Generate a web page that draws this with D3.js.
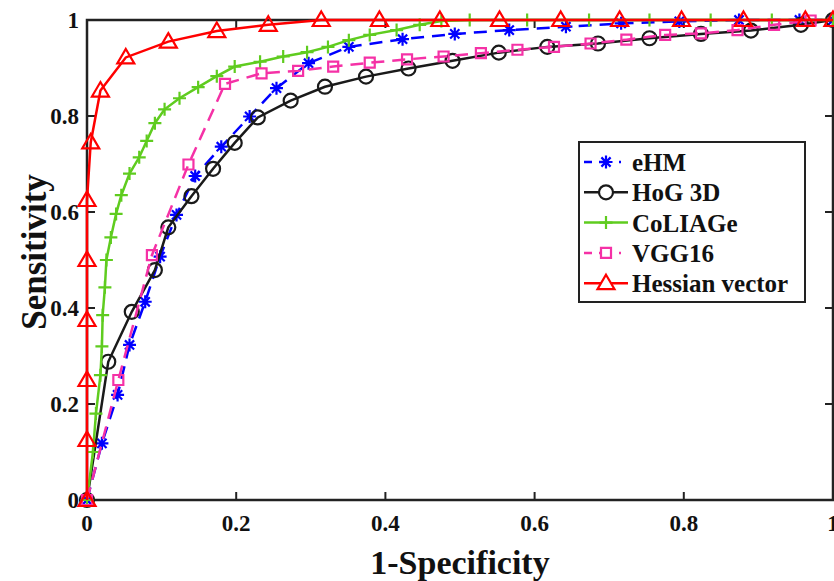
<!DOCTYPE html>
<html>
<head>
<meta charset="utf-8">
<script src="https://cdn.jsdelivr.net/npm/d3@7/dist/d3.min.js"></script>
<style>
  body { margin: 0; background: #fff; }
  text { font-family: "Liberation Serif", "Times New Roman", serif; font-weight: bold; fill: #111; }
</style>
</head>
<body>
<div id="chart"></div>
<script>
// ROC curves
var ehmX = [0, 0.02, 0.041, 0.057, 0.078, 0.098, 0.12, 0.145, 0.18, 0.218, 0.254, 0.297, 0.351, 0.423, 0.493, 0.566, 0.642, 0.716, 0.794, 0.874, 0.955, 1];
var ehmY = [0, 0.118, 0.219, 0.323, 0.413, 0.507, 0.594, 0.675, 0.736, 0.799, 0.858, 0.91, 0.944, 0.96, 0.971, 0.979, 0.986, 0.993, 0.997, 1, 1, 1];

var hogX = [0, 0.0285, 0.06, 0.091, 0.109, 0.14, 0.169, 0.198, 0.229, 0.273, 0.319, 0.374, 0.431, 0.49, 0.552, 0.617, 0.685, 0.754, 0.823, 0.89, 0.957, 1];
var hogY = [0, 0.288, 0.392, 0.479, 0.568, 0.633, 0.69, 0.744, 0.797, 0.832, 0.861, 0.882, 0.899, 0.915, 0.932, 0.944, 0.951, 0.962, 0.971, 0.978, 0.99, 1];

var coliageX = [0, 0.008, 0.012, 0.018, 0.02, 0.021, 0.024, 0.026, 0.032, 0.039, 0.046, 0.057, 0.07, 0.08, 0.091, 0.104, 0.124, 0.149, 0.174, 0.198, 0.232, 0.263, 0.295, 0.323, 0.351, 0.379, 0.415, 0.446, 0.475, 0.513, 0.59, 0.673, 0.754, 0.836, 0.918, 1];
var coliageY = [0, 0.1, 0.18, 0.26, 0.32, 0.385, 0.443, 0.5, 0.547, 0.596, 0.635, 0.68, 0.714, 0.748, 0.785, 0.814, 0.837, 0.86, 0.883, 0.903, 0.913, 0.924, 0.933, 0.944, 0.958, 0.969, 0.979, 0.99, 0.998, 1, 1, 1, 1, 1, 1, 1];

var vggX = [0, 0.042, 0.087, 0.136, 0.185, 0.234, 0.283, 0.33, 0.379, 0.429, 0.478, 0.528, 0.577, 0.626, 0.675, 0.723, 0.775, 0.823, 0.872, 0.921, 0.97];
var vggY = [0, 0.25, 0.51, 0.699, 0.867, 0.889, 0.894, 0.903, 0.911, 0.918, 0.924, 0.931, 0.938, 0.944, 0.951, 0.959, 0.969, 0.972, 0.979, 0.99, 0.999];

var hessX = [0, 0, 0, 0, 0, 0, 0.005, 0.018, 0.052, 0.109, 0.174, 0.243, 0.314, 0.392, 0.473, 0.553, 0.635, 0.714, 0.797, 0.88, 0.963, 1];
var hessY = [0, 0.125, 0.25, 0.375, 0.5, 0.625, 0.745, 0.853, 0.922, 0.955, 0.977, 0.99, 1, 1, 1, 1, 1, 1, 1, 1, 1, 1];

var names = ["eHM", "HoG 3D", "CoLIAGe", "VGG16", "Hessian vector"];
var xTicks = [0, 0.2, 0.4, 0.6, 0.8, 1];
var yTicks = [0, 0.2, 0.4, 0.6, 0.8, 1];

var W = 834, H = 581;
var x0 = 87, x1 = 833, yTop = 20, yBot = 500;

var svg = d3.select("#chart").append("svg")
  .attr("width", W).attr("height", H);

var x = d3.scaleLinear().domain([0, 1]).range([x0, x1]);
var y = d3.scaleLinear().domain([0, 1]).range([yBot, yTop]);

// marker shapes
function markerPath(type) {
  if (type == "star") {
    var a = 6.5, b = 4.6;
    return "M0," + (-a) + "V" + a + "M" + (-a) + ",0H" + a +
      "M" + (-b) + "," + (-b) + "L" + b + "," + b + "M" + (-b) + "," + b + "L" + b + "," + (-b);
  }
  if (type == "circle") return d3.symbol().type(d3.symbolCircle).size(Math.PI * 7 * 7)();
  if (type == "plus") return "M0,-6.5V6.5M-6.5,0H6.5";
  if (type == "square") return "M-5,-5H5V5H-5Z";
  if (type == "triangle") return "M0,-8.5L8.5,6L-8.5,6Z";
}

var series = [
  {name: names[0], xs: ehmX, ys: ehmY, color: "#0000ff", dash: "13,8", marker: "star"},
  {name: names[1], xs: hogX, ys: hogY, color: "#1a1a1a", dash: null, marker: "circle"},
  {name: names[2], xs: coliageX, ys: coliageY, color: "#5fcc1f", dash: null, marker: "plus"},
  {name: names[3], xs: vggX, ys: vggY, color: "#f531a6", dash: "13,8", marker: "square"},
  {name: names[4], xs: hessX, ys: hessY, color: "#ff0000", dash: null, marker: "triangle"}
];

var line = d3.line()
  .x(function(d) { return x(d[0]); })
  .y(function(d) { return y(d[1]); });

// axes box with inward ticks
var ax = svg.append("g");
ax.append("rect")
  .attr("x", x0).attr("y", yTop)
  .attr("width", x1 - x0).attr("height", yBot - yTop)
  .attr("fill", "none").attr("stroke", "#222").attr("stroke-width", 2.5);

xTicks.forEach(function(t) {
  ax.append("line").attr("x1", x(t)).attr("x2", x(t)).attr("y1", yBot).attr("y2", yBot - 8)
    .attr("stroke", "#222").attr("stroke-width", 2);
  ax.append("line").attr("x1", x(t)).attr("x2", x(t)).attr("y1", yTop).attr("y2", yTop + 8)
    .attr("stroke", "#222").attr("stroke-width", 2);
  ax.append("text").attr("x", x(t)).attr("y", 531)
    .attr("text-anchor", "middle").style("font-size", "23px").text(d3.format("~g")(t));
});
yTicks.forEach(function(t) {
  ax.append("line").attr("x1", x0).attr("x2", x0 + 8).attr("y1", y(t)).attr("y2", y(t))
    .attr("stroke", "#222").attr("stroke-width", 2);
  ax.append("line").attr("x1", x1).attr("x2", x1 - 8).attr("y1", y(t)).attr("y2", y(t))
    .attr("stroke", "#222").attr("stroke-width", 2);
  ax.append("text").attr("x", 79).attr("y", y(t) + 8)
    .attr("text-anchor", "end").style("font-size", "23px").text(d3.format("~g")(t));
});

// axis titles
svg.append("text")
  .attr("x", 460).attr("y", 574)
  .attr("text-anchor", "middle").style("font-size", "34px")
  .text("1-Specificity");
svg.append("text")
  .attr("transform", "translate(46,252) rotate(-90)")
  .attr("text-anchor", "middle").style("font-size", "35px")
  .text("Sensitivity");

// curves
series.forEach(function(s) {
  var pts = s.xs.map(function(v, i) { return [v, s.ys[i]]; });
  var g = svg.append("g");
  g.append("path")
    .datum(pts)
    .attr("d", line)
    .attr("fill", "none")
    .attr("stroke", s.color)
    .attr("stroke-width", 2.5)
    .attr("stroke-dasharray", s.dash);
  g.selectAll("path.m")
    .data(pts)
    .enter().append("path")
    .attr("class", "m")
    .attr("d", markerPath(s.marker))
    .attr("transform", function(d) { return "translate(" + x(d[0]) + "," + y(d[1]) + ")"; })
    .attr("fill", s.marker == "square" || s.marker == "circle" || s.marker == "triangle" ? "none" : "none")
    .attr("stroke", s.color)
    .attr("stroke-width", 2.2);
});

// legend
var lg = svg.append("g");
lg.append("rect")
  .attr("x", 579).attr("y", 142).attr("width", 226).attr("height", 160)
  .attr("fill", "#fff").attr("stroke", "#222").attr("stroke-width", 2);
series.forEach(function(s, i) {
  var cy = 162 + i * 30.3;
  lg.append("line")
    .attr("x1", 584).attr("x2", 628).attr("y1", cy).attr("y2", cy)
    .attr("stroke", s.color).attr("stroke-width", 2.5)
    .attr("stroke-dasharray", s.dash ? "8,7,0,0,8,12,2,10" : null);
  lg.append("path")
    .attr("d", markerPath(s.marker))
    .attr("transform", "translate(606," + cy + ")")
    .attr("fill", "#fff")
    .attr("stroke", s.color).attr("stroke-width", 2.2);
  lg.append("text")
    .attr("x", 632).attr("y", cy + 9)
    .style("font-size", "25px")
    .text(s.name);
});
</script>
</body>
</html>
